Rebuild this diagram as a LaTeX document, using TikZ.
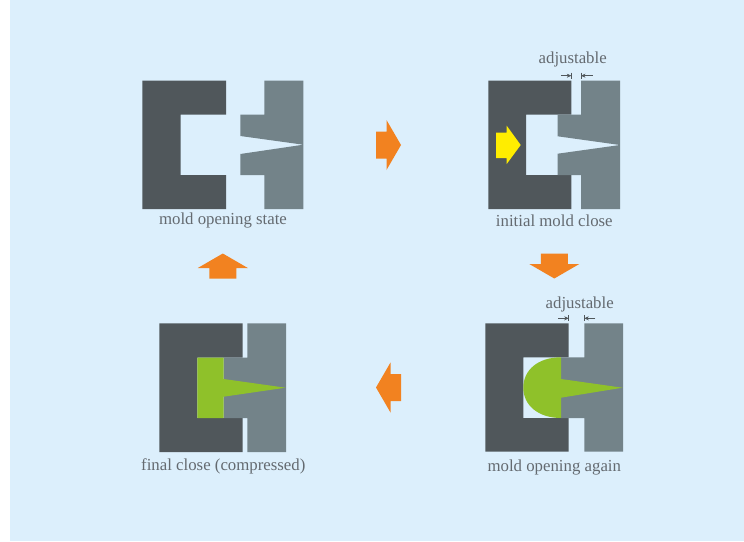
\documentclass[tikz,border=0pt]{standalone}
\usepackage{fontspec}
\setmainfont{Liberation Serif}
\usepackage{xcolor}
\usepackage{tikz}
\usetikzlibrary{arrows.meta, positioning, calc}
\definecolor{mybg}{RGB}{220,239,252}
\definecolor{mydark}{RGB}{80,87,91}
\definecolor{mysteel}{RGB}{115,131,137}
\definecolor{mygreen}{RGB}{143,193,42}
\definecolor{myorange}{RGB}{242,130,32}
\definecolor{myyellow}{RGB}{255,237,0}
\definecolor{mytext}{RGB}{100,106,112}
\tikzset{
  fixedmold/.style={fill=mydark, draw=none},
  movemold/.style={fill=mysteel, draw=none},
  resin/.style={fill=mygreen, draw=none},
  caption/.style={font=\fontsize{16.8}{20}\selectfont, color=mytext, inner sep=0pt},
  gaptick/.style={color=mydark, line width=0.5pt},
  gaparrow/.style={-{Stealth[length=4.5pt,width=4pt]}, color=mydark, line width=0.5pt}
}
\begin{document}
\begin{tikzpicture}[x=1pt, y=-1pt]
  \useasboundingbox (0,0) rectangle (744,541);
  % background
  \fill[white] (0,0) rectangle (744,541);
  \fill[mybg] (10,0) rectangle (744,541);
  % mold opening state
  \fill[fixedmold] (142.3,80.7) -- (226,80.7) -- (226,114.5) -- (180.7,114.5) -- (180.7,175) -- (226,175) -- (226,209) -- (142.3,209) -- cycle;
  \fill[movemold] (264.3,80.7) -- (303.3,80.7) -- (303.3,209) -- (264.3,209) -- (264.3,175) -- (240.3,175) -- (240.3,154) -- (303.3,144.7) -- (240.3,136) -- (240.3,114.5) -- (264.3,114.5) -- cycle;
  \node[caption] (openlabel) at (223,220) {mold opening state};
  % initial mold close
  \fill[fixedmold] (488.3,80.7) -- (571.3,80.7) -- (571.3,114.5) -- (526,114.5) -- (526,175) -- (571.3,175) -- (571.3,209) -- (488.3,209) -- cycle;
  \fill[movemold] (581,80.7) -- (620,80.7) -- (620,209) -- (581,209) -- (581,175) -- (557.7,175) -- (557.7,153.7) -- (620,145) -- (557.7,136.3) -- (557.7,114.5) -- (581,114.5) -- cycle;
  \fill[myyellow] (496,132.7) -- (506.7,132.7) -- (506.7,125.7) -- (520.7,145) -- (506.7,164) -- (506.7,158) -- (496,158) -- cycle;
  \node[caption] (closelabel) at (554.3,220.5) {initial mold close};
  \node[caption] (gaplabela) at (572.7,59) {adjustable};
  \coordinate (gapa1) at (571.3,75.7);
  \coordinate (gapa2) at (581,75.7);
  \draw[gaparrow] ($(gapa1)+(-10.5,0)$) -- (gapa1);
  \draw[gaparrow] ($(gapa2)+(11.5,0)$) -- (gapa2);
  \draw[gaptick] ($(gapa1)+(0,-3)$) -- ($(gapa1)+(0,3)$);
  \draw[gaptick] ($(gapa2)+(0,-3)$) -- ($(gapa2)+(0,3)$);
  % mold opening again
  \fill[fixedmold] (485.3,323.3) -- (568.7,323.3) -- (568.7,357.3) -- (523.3,357.3) -- (523.3,418) -- (568.7,418) -- (568.7,451.7) -- (485.3,451.7) -- cycle;
  \fill[movemold] (584.3,323.3) -- (623,323.3) -- (623,451.7) -- (584.3,451.7) -- (584.3,418) -- (561,418) -- (561,357.3) -- (584.3,357.3) -- cycle;
  \fill[resin] (561,357.3) .. controls (538,357.3) and (523.3,370) .. (523.3,387.7) .. controls (523.3,405) and (538,418) .. (561,418) -- (561,397.7) -- (622.5,387.7) -- (561,379) -- cycle;
  \node[caption] (againlabel) at (554.3,467) {mold opening again};
  \node[caption] (gaplabelb) at (579.7,304) {adjustable};
  \coordinate (gapb1) at (568.7,318.3);
  \coordinate (gapb2) at (584.3,318.3);
  \draw[gaparrow] ($(gapb1)+(-10.5,0)$) -- (gapb1);
  \draw[gaparrow] ($(gapb2)+(11,0)$) -- (gapb2);
  \draw[gaptick] ($(gapb1)+(0,-3)$) -- ($(gapb1)+(0,3)$);
  \draw[gaptick] ($(gapb2)+(0,-3)$) -- ($(gapb2)+(0,3)$);
  % final close
  \fill[fixedmold] (159.3,323.3) -- (242.7,323.3) -- (242.7,357.7) -- (197.3,357.7) -- (197.3,418) -- (242.7,418) -- (242.7,452) -- (159.3,452) -- cycle;
  \fill[movemold] (247.3,323.3) -- (286,323.3) -- (286,452) -- (247.3,452) -- (247.3,418) -- (223.7,418) -- (223.7,357.7) -- (247.3,357.7) -- cycle;
  \fill[resin] (197.3,357.7) -- (223.7,357.7) -- (223.7,379) -- (285.5,387.7) -- (223.7,396.7) -- (223.7,418) -- (197.3,418) -- cycle;
  \node[caption] (finallabel) at (223.3,466) {final close (compressed)};
  % process arrows
  \foreach \cx/\cy/\ang in {388.5/145/0, 554.3/266/-90, 388.5/387.5/180, 222.8/266/90} {
    \fill[myorange, shift={(\cx,\cy)}, rotate=\ang] (-12.5,-13.5) -- (-2,-13.5) -- (-2,-25) -- (12.5,0) -- (-2,25) -- (-2,13.5) -- (-12.5,13.5) -- cycle;
  }
\end{tikzpicture}
\end{document}
